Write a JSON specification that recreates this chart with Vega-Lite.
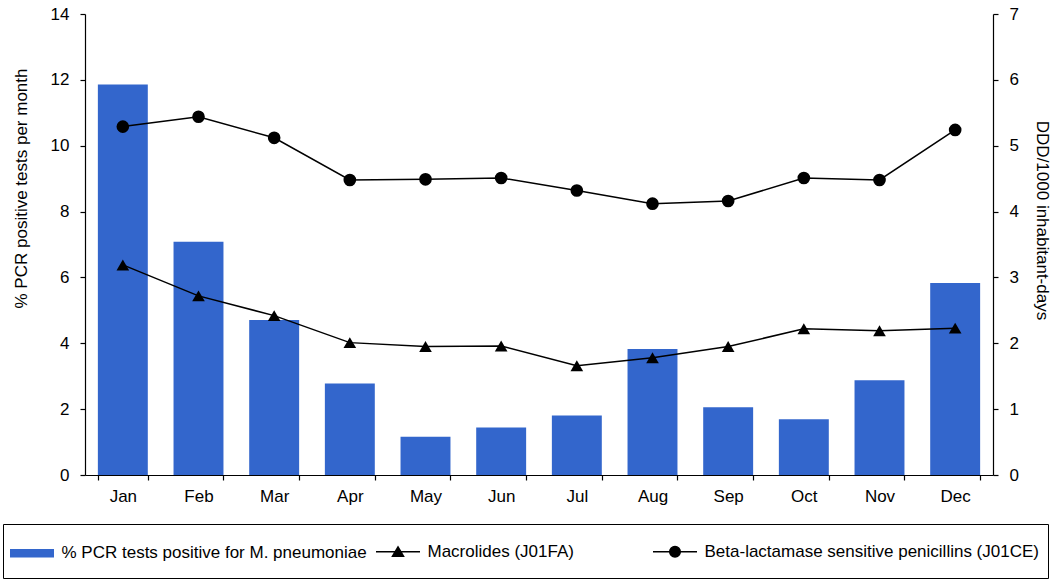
{
  "$schema": "https://vega.github.io/schema/vega-lite/v6.json",
  "autosize": {"type": "none"},
  "width": 908,
  "height": 461,
  "padding": {"left": 85, "top": 14, "right": 59, "bottom": 107},
  "background": "white",
  "config": {
    "view": {"stroke": null},
    "font": "Liberation Sans",
    "axis": {
      "grid": false,
      "domainColor": "black",
      "domainWidth": 1.2,
      "tickColor": "black",
      "tickWidth": 1.2,
      "tickSize": 5,
      "labelColor": "black",
      "labelFont": "Liberation Sans",
      "labelFontSize": 17,
      "titleColor": "black",
      "titleFont": "Liberation Sans",
      "titleFontSize": 17,
      "titleFontWeight": "normal"
    }
  },
  "data": {
    "values": [
      {"month": "Jan", "series": "% PCR tests positive for M. pneumoniae", "value": 11.86},
      {"month": "Feb", "series": "% PCR tests positive for M. pneumoniae", "value": 7.08},
      {"month": "Mar", "series": "% PCR tests positive for M. pneumoniae", "value": 4.71},
      {"month": "Apr", "series": "% PCR tests positive for M. pneumoniae", "value": 2.78},
      {"month": "May", "series": "% PCR tests positive for M. pneumoniae", "value": 1.16},
      {"month": "Jun", "series": "% PCR tests positive for M. pneumoniae", "value": 1.44},
      {"month": "Jul", "series": "% PCR tests positive for M. pneumoniae", "value": 1.81},
      {"month": "Aug", "series": "% PCR tests positive for M. pneumoniae", "value": 3.83},
      {"month": "Sep", "series": "% PCR tests positive for M. pneumoniae", "value": 2.06},
      {"month": "Oct", "series": "% PCR tests positive for M. pneumoniae", "value": 1.69},
      {"month": "Nov", "series": "% PCR tests positive for M. pneumoniae", "value": 2.88},
      {"month": "Dec", "series": "% PCR tests positive for M. pneumoniae", "value": 5.83},
      {"month": "Jan", "series": "Macrolides (J01FA)", "value": 3.19},
      {"month": "Feb", "series": "Macrolides (J01FA)", "value": 2.72},
      {"month": "Mar", "series": "Macrolides (J01FA)", "value": 2.42},
      {"month": "Apr", "series": "Macrolides (J01FA)", "value": 2.01},
      {"month": "May", "series": "Macrolides (J01FA)", "value": 1.95},
      {"month": "Jun", "series": "Macrolides (J01FA)", "value": 1.96},
      {"month": "Jul", "series": "Macrolides (J01FA)", "value": 1.66},
      {"month": "Aug", "series": "Macrolides (J01FA)", "value": 1.78},
      {"month": "Sep", "series": "Macrolides (J01FA)", "value": 1.95},
      {"month": "Oct", "series": "Macrolides (J01FA)", "value": 2.22},
      {"month": "Nov", "series": "Macrolides (J01FA)", "value": 2.19},
      {"month": "Dec", "series": "Macrolides (J01FA)", "value": 2.23},
      {"month": "Jan", "series": "Beta-lactamase sensitive penicillins (J01CE)", "value": 5.29},
      {"month": "Feb", "series": "Beta-lactamase sensitive penicillins (J01CE)", "value": 5.44},
      {"month": "Mar", "series": "Beta-lactamase sensitive penicillins (J01CE)", "value": 5.12},
      {"month": "Apr", "series": "Beta-lactamase sensitive penicillins (J01CE)", "value": 4.48},
      {"month": "May", "series": "Beta-lactamase sensitive penicillins (J01CE)", "value": 4.49},
      {"month": "Jun", "series": "Beta-lactamase sensitive penicillins (J01CE)", "value": 4.51},
      {"month": "Jul", "series": "Beta-lactamase sensitive penicillins (J01CE)", "value": 4.32},
      {"month": "Aug", "series": "Beta-lactamase sensitive penicillins (J01CE)", "value": 4.12},
      {"month": "Sep", "series": "Beta-lactamase sensitive penicillins (J01CE)", "value": 4.16},
      {"month": "Oct", "series": "Beta-lactamase sensitive penicillins (J01CE)", "value": 4.51},
      {"month": "Nov", "series": "Beta-lactamase sensitive penicillins (J01CE)", "value": 4.48},
      {"month": "Dec", "series": "Beta-lactamase sensitive penicillins (J01CE)", "value": 5.24}
    ]
  },
  "encoding": {
    "x": {
      "field": "month",
      "type": "nominal",
      "sort": ["Jan", "Feb", "Mar", "Apr", "May", "Jun", "Jul", "Aug", "Sep", "Oct", "Nov", "Dec"],
      "scale": {"paddingInner": 0.34, "paddingOuter": 0.17},
      "axis": {"title": null, "labelAngle": 0, "tickBand": "extent", "labelPadding": 8}
    }
  },
  "layer": [
    {
      "transform": [{"filter": "datum.series === '% PCR tests positive for M. pneumoniae'"}],
      "mark": {"type": "bar"},
      "encoding": {
        "y": {
          "field": "value",
          "type": "quantitative",
          "scale": {"domain": [0, 14], "nice": false},
          "axis": {
            "orient": "left",
            "values": [0, 2, 4, 6, 8, 10, 12, 14],
            "title": "% PCR positive tests per month",
            "labelPadding": 11,
            "titlePadding": 20,
            "titleY": 174
          }
        },
        "color": {
          "field": "series",
          "type": "nominal",
          "scale": {
            "domain": ["% PCR tests positive for M. pneumoniae", "Macrolides (J01FA)", "Beta-lactamase sensitive penicillins (J01CE)"],
            "range": ["#3366CC", "black", "black"]
          },
          "legend": {
            "title": null,
            "orient": "none",
            "legendX": -82,
            "legendY": 510,
            "direction": "horizontal",
            "columns": 3,
            "padding": 9,
            "strokeColor": "black",
            "columnPadding": 6,
            "labelFont": "Liberation Sans",
            "labelFontSize": 17,
            "labelColor": "black",
            "labelLimit": 600,
            "labelOffset": 21,
            "symbolOffset": 11.5,
            "symbolSize": 1936,
            "encode": {
              "labels": {"update": {"dy": {"value": 10}}},
              "symbols": {
                "update": {
                  "shape": {"signal": "datum.value === 'Macrolides (J01FA)' ? 'M11.02,1.09M-1,0.4545H1M0,0.2345L0.25,0.6545L-0.25,0.6545Z' : (datum.value === 'Beta-lactamase sensitive penicillins (J01CE)' ? 'M0,1.09M-1,0.4545H1M0.24,0.4545A0.24,0.24,0,1,1,-0.24,0.4545A0.24,0.24,0,1,1,0.24,0.4545Z' : 'M0,1.09M-1,0.265H1V0.645H-1Z')"},
                  "fill": {"signal": "datum.value === '% PCR tests positive for M. pneumoniae' ? '#3366CC' : 'black'"},
                  "stroke": {"value": "black"},
                  "strokeWidth": {"signal": "datum.value === '% PCR tests positive for M. pneumoniae' ? 0 : 1.5"}
                }
              }
            }
          }
        }
      }
    },
    {
      "transform": [{"filter": "datum.series !== '% PCR tests positive for M. pneumoniae'"}],
      "encoding": {
        "y": {
          "field": "value",
          "type": "quantitative",
          "scale": {"domain": [0, 7], "nice": false},
          "axis": {
            "orient": "right",
            "values": [0, 1, 2, 3, 4, 5, 6, 7],
            "title": "DDD/1000 inhabitant-days",
            "labelPadding": 11,
            "titlePadding": 14,
            "titleY": 206
          }
        },
        "color": {"field": "series", "type": "nominal"}
      },
      "layer": [
        {"mark": {"type": "line", "strokeWidth": 1.5}},
        {
          "mark": {"type": "point", "filled": true, "opacity": 1, "size": 160},
          "encoding": {
            "shape": {
              "field": "series",
              "type": "nominal",
              "scale": {"domain": ["Macrolides (J01FA)", "Beta-lactamase sensitive penicillins (J01CE)"], "range": ["triangle-up", "circle"]},
              "legend": null
            }
          }
        }
      ]
    }
  ],
  "resolve": {"scale": {"y": "independent"}}
}
